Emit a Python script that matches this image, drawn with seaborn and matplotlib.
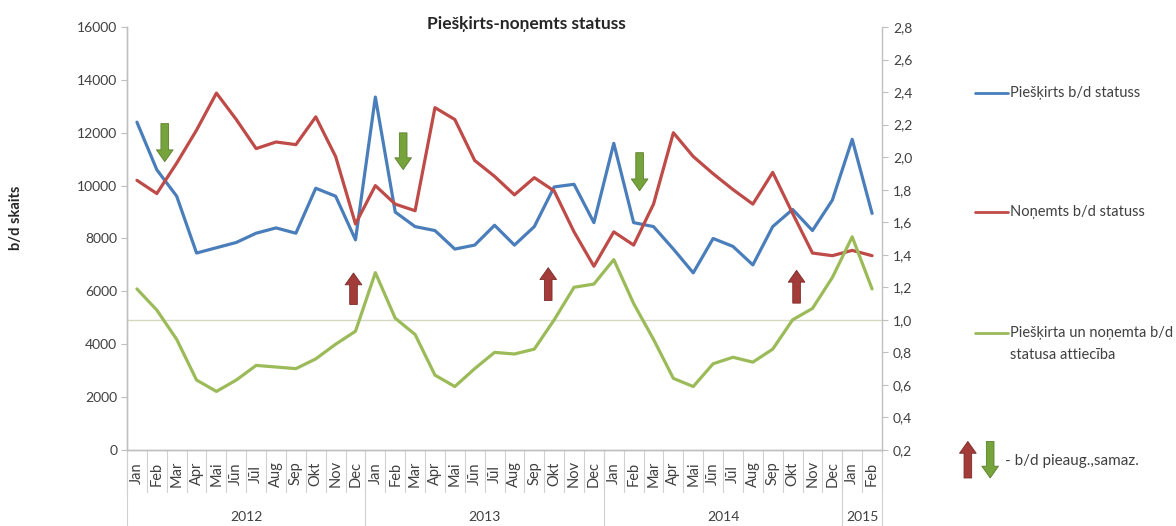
"""
Piešķirts-noņemts statuss
Monthly granted / withdrawn status counts with their ratio on a second axis
Output: out.png
"""

import numpy as np
import pandas as pd
import matplotlib
matplotlib.use("Agg")
import matplotlib.pyplot as plt
import seaborn as sns
from matplotlib.lines import Line2D

# --- data ------------------------------------------------------------------
month_names = ["Jan", "Feb", "Mar", "Apr", "Mai", "Jūn", "Jūl", "Aug", "Sep", "Okt", "Nov", "Dec"]
months = month_names * 3 + ["Jan", "Feb"]
years = ["2012", "2013", "2014", "2015"]
year_lengths = [12, 12, 12, 2]

granted = [12400, 10600, 9600, 7450, 7650, 7850, 8200, 8400, 8200, 9900, 9600, 7950,
           13350, 9000, 8450, 8300, 7600, 7750, 8500, 7750, 8450, 9950, 10050, 8600,
           11600, 8600, 8450, 7600, 6700, 8000, 7700, 7000, 8450, 9100, 8300, 9450,
           11750, 8950]
withdrawn = [10200, 9700, 10850, 12100, 13500, 12500, 11400, 11650, 11550, 12600, 11100, 8550,
             10000, 9300, 9050, 12950, 12500, 10950, 10350, 9650, 10300, 9800, 8250, 6950,
             8250, 7750, 9300, 12000, 11100, 10450, 9850, 9300, 10500, 8950, 7450, 7350,
             7550, 7350]
ratio = [1.19, 1.06, 0.88, 0.63, 0.56, 0.63, 0.72, 0.71, 0.70, 0.76, 0.85, 0.93,
         1.29, 1.01, 0.91, 0.66, 0.59, 0.70, 0.80, 0.79, 0.82, 1.00, 1.20, 1.22,
         1.37, 1.10, 0.88, 0.64, 0.59, 0.73, 0.77, 0.74, 0.82, 1.00, 1.07, 1.26,
         1.51, 1.19]

left_ticks = list(range(0, 16001, 2000))
right_ticks = [0.2, 0.4, 0.6, 0.8, 1.0, 1.2, 1.4, 1.6, 1.8, 2.0, 2.2, 2.4, 2.6, 2.8]
right_labels = [f"{v:.1f}".replace(".", ",") for v in right_ticks]

# arrow annotations: (month position, tail value, head value) on the left axis
down_arrows = [(1.4, 12450, 10800), (13.4, 12100, 10500), (25.3, 11350, 9700)]
up_arrows = [(10.9, 5400, 6800), (20.7, 5550, 7000), (33.2, 5450, 6900)]

legend_labels = ["Piešķirts b/d statuss", "Noņemts b/d statuss",
                 "Piešķirta un noņemta b/d\nstatusa attiecība"]

BLUE = "#4a7ebb"
RED = "#be4b48"
GREEN = "#9bbb59"
AX_GRAY = "#bfbfbf"
TXT = "#404040"


def add_arrow(ax, xy, xytext, color, edge, coords="data"):
    """Fat block arrow like the Excel shape"""
    ax.annotate("", xy=xy, xytext=xytext, xycoords=coords, textcoords=coords,
                annotation_clip=False,
                arrowprops=dict(arrowstyle="simple,head_length=0.85,head_width=1.2,tail_width=0.55",
                                fc=color, ec=edge, lw=0.6, mutation_scale=10))


def main():
    sns.set_style("white")
    plt.rcParams["font.family"] = ["Lato", "DejaVu Sans"]

    df = pd.DataFrame({"idx": np.arange(len(months)), "month": months,
                       "granted": granted, "withdrawn": withdrawn, "ratio": ratio})

    fig = plt.figure(figsize=(11.76, 5.26), dpi=100)
    ax = fig.add_axes([0.108, 0.1445, 0.642, 0.8042])
    ax2 = ax.twinx()

    sns.lineplot(data=df, x="idx", y="granted", ax=ax, color=BLUE, lw=2.3)
    sns.lineplot(data=df, x="idx", y="withdrawn", ax=ax, color=RED, lw=2.3)
    ax2.axhline(1.0, color="#d3d8c2", lw=1.0, zorder=1)
    sns.lineplot(data=df, x="idx", y="ratio", ax=ax2, color=GREEN, lw=2.3)

    n = len(months)
    ax.set_xlim(-0.5, n - 0.5)
    ax.set_ylim(0, 16000)
    ax2.set_ylim(0.2, 2.8)

    # left axis
    ax.set_yticks(left_ticks)
    ax.set_yticklabels([str(v) for v in left_ticks])
    ax.tick_params(axis="y", length=4, color=AX_GRAY, labelsize=10, labelcolor=TXT, pad=3)
    ax.set_ylabel("")
    fig.text(0.014, 0.585, "b/d skaits", rotation=90, ha="center", va="center",
             fontsize=10.5, fontweight="bold", color="#262626")

    # right axis
    ax2.set_yticks(right_ticks)
    ax2.set_yticklabels(right_labels)
    ax2.tick_params(axis="y", length=4, color=AX_GRAY, labelsize=10, labelcolor=TXT, pad=4)
    ax2.set_ylabel("")

    for a in (ax, ax2):
        a.spines["top"].set_visible(False)
        for s in ("left", "right", "bottom"):
            a.spines[s].set_color(AX_GRAY)
            a.spines[s].set_linewidth(1.0)
    ax.spines["right"].set_visible(False)

    # two-level category axis
    ax.set_xticks(range(n))
    ax.set_xticklabels(months, rotation=90, va="center", ha="center")
    ax.tick_params(axis="x", length=0, labelsize=10.5, labelcolor=TXT, pad=17)
    ax.set_xlabel("")
    ax2.set_xlabel("")

    trans = ax.get_xaxis_transform()
    month_depth = -42 / 423
    year_depth = -80 / 423
    for b in range(n + 1):
        ax.plot([b - 0.5, b - 0.5], [0, month_depth], transform=trans, color="#d0d0d0",
                lw=0.8, clip_on=False)
    start = 0
    for yr, length in zip(years, year_lengths):
        ax.plot([start - 0.5, start - 0.5], [0, year_depth], transform=trans, color="#d0d0d0",
                lw=0.8, clip_on=False)
        ax.text(start + (length - 1) / 2, -67 / 423, yr, transform=trans, ha="center",
                va="center", fontsize=10, color=TXT)
        start += length
    ax.plot([n - 0.5, n - 0.5], [0, year_depth], transform=trans, color="#d0d0d0",
            lw=0.8, clip_on=False)

    # arrows in the plot
    for x, y0, y1 in down_arrows:
        add_arrow(ax, (x, y1), (x, y0), "#77a33c", "#5b7f2c")
    for x, y0, y1 in up_arrows:
        add_arrow(ax, (x, y1), (x, y0), "#a33b38", "#7a2a28")

    fig.text(0.448, 1 - 24 / 526, "Piešķirts-noņemts statuss", fontsize=12.5,
             fontweight="bold", color="#262626", ha="center", va="center")

    # legend on the right
    legend_y = [0.823, 0.597, 0.367]
    for color, label, ly in zip([BLUE, RED, GREEN], legend_labels, legend_y):
        fig.add_artist(Line2D([0.829, 0.857], [ly, ly], transform=fig.transFigure,
                              color=color, lw=2.0))
        for k, line in enumerate(label.split("\n")):
            fig.text(0.859, ly - k * 22 / 526, line, ha="left", va="center",
                     fontsize=10.5, color=TXT)

    add_arrow(ax2, (0.823, 0.166), (0.823, 0.086), "#a33b38", "#7a2a28", coords="figure fraction")
    add_arrow(ax2, (0.842, 0.086), (0.842, 0.166), "#77a33c", "#5b7f2c", coords="figure fraction")
    fig.text(0.855, 0.124, "- b/d pieaug.,samaz.", ha="left", va="center",
             fontsize=11, color=TXT)

    fig.savefig("out.png", dpi=100)
    plt.close(fig)


if __name__ == "__main__":
    main()
